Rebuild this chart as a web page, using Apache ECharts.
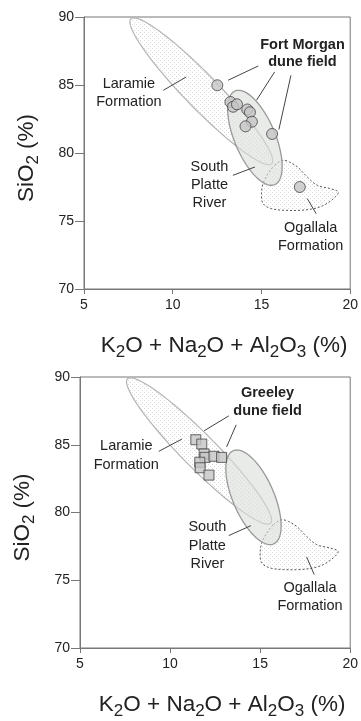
<!DOCTYPE html>
<html>
<head>
<meta charset="utf-8">
<script src="https://cdn.jsdelivr.net/npm/echarts@6/dist/echarts.min.js"></script>
<style>
  html, body { margin: 0; padding: 0; background: #fff; }
  #chart { width: 361px; height: 721px; }
</style>
</head>
<body>
<div id="chart"></div>
<script>
// Axis ranges (both panels share the same scales)
const xRange = [5, 20];
const yRange = [70, 90];
const tickStep = 5;

// Fort Morgan dune field samples (K2O + Na2O + Al2O3 %, SiO2 %)
const fortMorganX = [12.51, 13.25, 13.40, 13.62, 14.20, 14.35, 14.46, 14.10, 15.60, 17.16];
const fortMorganY = [84.98, 83.75, 83.40, 83.58, 83.20, 83.00, 82.30, 81.96, 81.40, 77.50];

// Greeley dune field samples
const greeleyX = [11.43, 11.76, 11.89, 11.94, 12.44, 12.86, 11.65, 11.67, 12.16];
const greeleyY = [85.37, 85.05, 84.32, 84.07, 84.15, 84.07, 83.71, 83.30, 82.76];

// Source-area ellipses: both major-axis tips, then one minor-axis tip (x, y pairs)
const laramieEllipse = [7.64, 89.87, 15.58, 79.21, 12.28, 85.42];
const southPlatteEllipse = [13.51, 84.56, 15.75, 77.68, 15.68, 81.72];

// Ogallala Formation field outline
const ogallalaX = [15.74, 16.20, 16.57, 17.03, 17.58, 18.14, 18.87, 19.33, 19.06, 18.50,
                   17.95, 17.21, 16.29, 15.55, 15.09, 15.00, 15.09, 15.37];
const ogallalaY = [79.10, 79.46, 79.34, 78.97, 78.24, 77.63, 77.38, 77.13, 76.65, 76.15,
                   75.91, 75.79, 75.79, 75.91, 76.28, 77.01, 77.75, 78.49];

// Panel labels: text, anchor x, anchor y, bold
const topLabels = [
  ['Fort Morgan\ndune field', 17.31, 87.33, true],
  ['Laramie\nFormation', 7.53, 84.43, false],
  ['South\nPlatte\nRiver', 12.07, 77.65, false],
  ['Ogallala\nFormation', 17.77, 73.80, false]
];
const bottomLabels = [
  ['Greeley\ndune field', 15.41, 88.15, true],
  ['Laramie\nFormation', 7.57, 84.21, false],
  ['South\nPlatte\nRiver', 12.07, 77.56, false],
  ['Ogallala\nFormation', 17.77, 73.76, false]
];
// Leader lines: x1, y1, x2, y2
const topLeaders = [
  [13.12, 85.35, 14.82, 86.40],
  [14.72, 83.88, 15.74, 85.96],
  [15.98, 81.72, 16.66, 85.71],
  [9.47, 84.61, 10.76, 85.59],
  [13.39, 78.36, 14.63, 78.97],
  [17.58, 76.65, 18.08, 75.54]
];
const bottomLeaders = [
  [11.89, 86.03, 13.26, 87.13],
  [13.14, 84.84, 13.67, 86.47],
  [9.37, 84.51, 10.66, 85.42],
  [13.26, 78.30, 14.49, 79.03],
  [17.58, 76.72, 18.00, 75.42]
];

const FONT = '"Liberation Sans", Arial, Helvetica, sans-serif';

function zip(xs, ys) { return xs.map((x, i) => [x, ys[i]]); }

// Fine dot texture used for the stippled fields
function stipple(color, step) {
  const c = document.createElement('canvas');
  c.width = c.height = step;
  const g = c.getContext('2d');
  g.fillStyle = color;
  g.fillRect(0, 0, 1, 1);
  g.fillRect(Math.floor(step / 2), Math.floor(step / 2), 1, 1);
  return c;
}
const dots = stipple('rgba(150,150,150,0.36)', 4);

function ellipseRenderer(style) {
  return function (params, api) {
    const p1 = api.coord([api.value(0), api.value(1)]);
    const p2 = api.coord([api.value(2), api.value(3)]);
    const p3 = api.coord([api.value(4), api.value(5)]);
    const cx = (p1[0] + p2[0]) / 2, cy = (p1[1] + p2[1]) / 2;
    const ax = p1[0] - cx, ay = p1[1] - cy, bx = p3[0] - cx, by = p3[1] - cy;
    const pts = [];
    const n = 120;
    for (let i = 0; i < n; i++) {
      const t = (i / n) * Math.PI * 2;
      pts.push([cx + ax * Math.cos(t) + bx * Math.sin(t), cy + ay * Math.cos(t) + by * Math.sin(t)]);
    }
    return { type: 'polygon', shape: { points: pts }, style: style };
  };
}

function outlineRenderer(xs, ys, style) {
  return function (params, api) {
    if (params.dataIndex !== 0) return null;
    const pts = xs.map((x, i) => api.coord([x, ys[i]]));
    return { type: 'polygon', shape: { points: pts, smooth: 0.35 }, style: style };
  };
}

function panelSeries(g, samples, symbol, symbolSize, labels, leaders) {
  return [
    {
      type: 'custom', xAxisIndex: g, yAxisIndex: g, z: 1, silent: true,
      renderItem: ellipseRenderer({ fill: { image: dots, repeat: 'repeat' }, stroke: '#b4b4b4', lineWidth: 1.2 }),
      encode: { x: [0, 2, 4], y: [1, 3, 5] },
      data: [laramieEllipse]
    },
    {
      type: 'custom', xAxisIndex: g, yAxisIndex: g, z: 2, silent: true,
      renderItem: outlineRenderer(ogallalaX, ogallalaY, {
        fill: { image: dots, repeat: 'repeat' }, stroke: '#555', lineWidth: 1, lineDash: [2, 2]
      }),
      encode: { x: 0, y: 1 },
      data: zip(ogallalaX, ogallalaY)
    },
    {
      type: 'custom', xAxisIndex: g, yAxisIndex: g, z: 3, silent: true,
      renderItem: ellipseRenderer({ fill: 'rgba(218,222,218,0.6)', stroke: '#999', lineWidth: 1.3 }),
      encode: { x: [0, 2, 4], y: [1, 3, 5] },
      data: [southPlatteEllipse]
    },
    {
      type: 'custom', xAxisIndex: g, yAxisIndex: g, z: 4, silent: true,
      renderItem: function (params, api) {
        const a = api.coord([api.value(0), api.value(1)]);
        const b = api.coord([api.value(2), api.value(3)]);
        return { type: 'line', shape: { x1: a[0], y1: a[1], x2: b[0], y2: b[1] }, style: { stroke: '#444', lineWidth: 1 } };
      },
      encode: { x: [0, 2], y: [1, 3] },
      data: leaders
    },
    {
      type: 'custom', xAxisIndex: g, yAxisIndex: g, z: 5, silent: true,
      renderItem: function (params, api) {
        const item = labels[params.dataIndex];
        const p = api.coord([api.value(0), api.value(1)]);
        return {
          type: 'text', x: p[0], y: p[1],
          style: {
            text: item[0], fill: '#222', align: 'center', verticalAlign: 'middle',
            font: (item[3] ? 'bold ' : '') + '14.5px ' + FONT, lineHeight: item[3] ? 17.5 : 18.2
          }
        };
      },
      encode: { x: 0, y: 1 },
      data: labels.map(l => [l[1], l[2]])
    },
    {
      type: 'scatter', xAxisIndex: g, yAxisIndex: g, z: 6, silent: true,
      symbol: symbol, symbolSize: symbolSize,
      itemStyle: { color: '#c4c6c4', borderColor: '#444', borderWidth: 1 },
      data: samples
    }
  ];
}

const titleRich = {
  m: { fontSize: 22.5, fontFamily: FONT, color: '#222', verticalAlign: 'middle', lineHeight: 30 },
  s: { fontSize: 17, fontFamily: FONT, color: '#222', verticalAlign: 'bottom', lineHeight: 17 }
};
const xName = '{m|K}{s|2}{m|O + Na}{s|2}{m|O + Al}{s|2}{m|O}{s|3}{m| (%)}';
const yName = '{m|SiO}{s|2}{m| (%)}';

function xAxisFor(g) {
  return {
    gridIndex: g, type: 'value', min: xRange[0], max: xRange[1], interval: tickStep,
    axisLine: { show: true, onZero: false, lineStyle: { color: '#777', width: 1 } },
    axisTick: { show: true, length: 5, lineStyle: { color: '#777' } },
    axisLabel: { color: '#222', fontSize: 14, fontFamily: FONT, margin: 9 },
    splitLine: { show: false },
    name: xName, nameLocation: 'middle', nameGap: 42,
    nameTextStyle: { rich: titleRich, padding: [0, 0, 0, 14] }
  };
}
function yAxisFor(g) {
  return {
    gridIndex: g, type: 'value', min: yRange[0], max: yRange[1], interval: tickStep,
    axisLine: { show: true, onZero: false, lineStyle: { color: '#777', width: 1 } },
    axisTick: { show: true, length: 9, lineStyle: { color: '#777' } },
    axisLabel: { color: '#222', fontSize: 14, fontFamily: FONT, margin: 10 },
    splitLine: { show: false },
    name: yName, nameLocation: 'middle', nameRotate: 90, nameGap: 42,
    nameTextStyle: { rich: titleRich, padding: [0, 10, 0, 0] }
  };
}

const chart = echarts.init(document.getElementById('chart'), null, { renderer: 'canvas' });
chart.setOption({
  animation: false,
  backgroundColor: '#fff',
  grid: [
    { left: 84, top: 17, width: 271, height: 272, show: true, borderColor: '#777', borderWidth: 1, backgroundColor: 'transparent' },
    { left: 80, top: 377, width: 272, height: 273, show: true, borderColor: '#777', borderWidth: 1, backgroundColor: 'transparent' }
  ],
  xAxis: [xAxisFor(0), xAxisFor(1)],
  yAxis: [yAxisFor(0), yAxisFor(1)],
  series: [].concat(
    panelSeries(0, zip(fortMorganX, fortMorganY), 'circle', 11, topLabels, topLeaders),
    panelSeries(1, zip(greeleyX, greeleyY), 'rect', 10, bottomLabels, bottomLeaders)
  )
});
</script>
</body>
</html>
